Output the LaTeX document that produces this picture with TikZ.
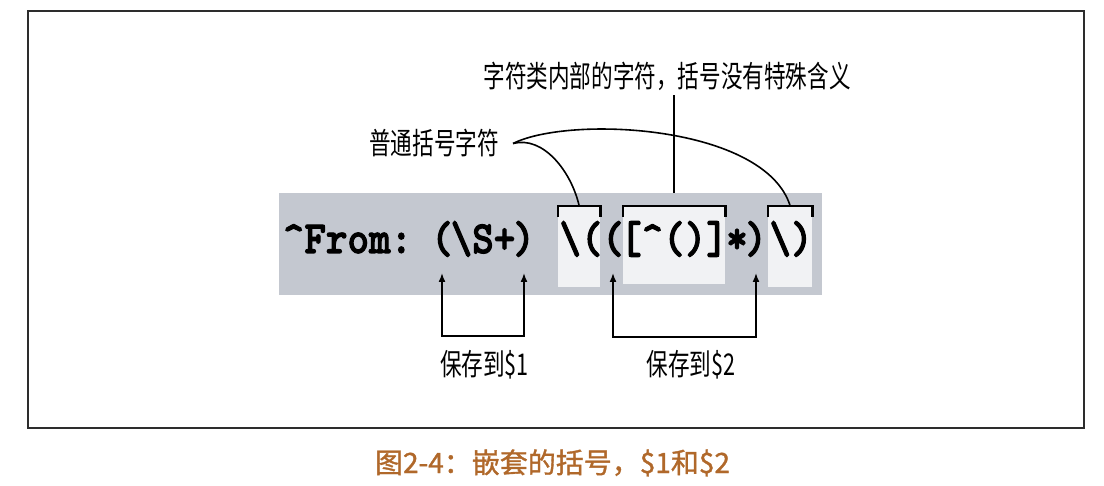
\documentclass[tikz,border=0pt]{standalone}
\usepackage{fontspec}
\usepackage{graphicx}
\usetikzlibrary{arrows.meta}
\newfontfamily\cjk{Noto Sans CJK SC}
\newfontfamily\cjkheavy[FakeBold=1.2]{Noto Sans CJK SC}
\newfontfamily\codefont[FakeBold=2.5]{lmmonolt10-bold.otf}
\newcommand\narrowtext[1]{\scalebox{0.72}[1]{#1}}
\newcommand\tallcode[1]{\scalebox{1}[1.12]{#1}}
\definecolor{bandgray}{RGB}{196,200,208}
\definecolor{holewhite}{RGB}{241,242,244}
\definecolor{captionbrown}{RGB}{176,104,42}
\definecolor{framegray}{RGB}{45,45,45}

\begin{document}
\begin{tikzpicture}[x=1pt,y=-1pt,
  code/.style={font=\codefont\fontsize{41}{41}\selectfont, inner sep=0pt, anchor=base},
  callout/.style={font=\cjk\fontsize{30}{30}\selectfont, inner sep=0pt, anchor=base},
  band/.style={fill=bandgray, draw=none, inner sep=0pt, anchor=north west},
  hole/.style={fill=holewhite, draw=none, inner sep=0pt, anchor=north west},
  bracket/.style={line width=2.2pt, black},
  conn/.style={line width=1.6pt, black},
  arr/.style={conn, {Latex[length=9pt,width=7pt]}-{Latex[length=9pt,width=7pt]}}
]
\useasboundingbox (0,0) rectangle (1104,486);

% outer frame
\node[draw=framegray, line width=2pt, inner sep=0pt, anchor=north west,
      minimum width=1056pt, minimum height=417pt] (frame) at (27,10) {};

% shaded regex band and the three lighter boxes
\node[band, minimum width=543pt, minimum height=102pt] (band) at (279,193) {};
\node[hole, minimum width=42pt, minimum height=81pt] (box1) at (558,206) {};
\node[hole, minimum width=102pt, minimum height=78pt] (box2) at (623,206) {};
\node[hole, minimum width=44pt, minimum height=81pt] (box3) at (768,206) {};

% brackets over the boxes
\foreach \b in {box1,box2,box3}
  \draw[bracket] ([yshift=-11pt]\b.north west) -- (\b.north west)
                 -- (\b.north east) -- ([yshift=-11pt]\b.north east);

% the regular expression
\node[code] (anchorfrom) at (347.5,253) {\tallcode{\char`\^From:}};
\node[code] (p1o) at (442,253) {\tallcode{(}};
\node[code] (p1body) at (483,253) {\tallcode{\char`\\S+}};
\node[code] (p1c) at (524,253) {\tallcode{)}};
\node[code] (litopen) at (581,253) {\tallcode{\char`\\(}};
\node[code] (p2o) at (613,253) {\tallcode{(}};
\node[code] (cls) at (674,253) {\tallcode{[\char`\^()]}};
\node[code] (star) at (737,253) {\tallcode{*}};
\node[code] (p2c) at (756,253) {\tallcode{)}};
\node[code] (litclose) at (791,253) {\tallcode{\char`\\)}};

% callout texts
\node[callout] (inner) at (667,88) {\narrowtext{字符类内部的字符，括号没有特殊含义}};
\node[callout] (plain) at (434,155) {\narrowtext{普通括号字符}};
\node[callout] (save1) at (484.5,376) {\narrowtext{保存到\$1}};
\node[callout] (save2) at (691,376) {\narrowtext{保存到\$2}};

% caption
\node[callout, font=\cjkheavy\fontsize{28}{28}\selectfont, text=captionbrown]
  (caption) at (552.5,473) {图2-4：嵌套的括号，\$1和\$2};

% leader from the class note down to the band
\draw[conn] ([yshift=-4pt]box2.north |- inner.south) -- (box2.north |- band.north);

% curved leaders to the literal parentheses
\coordinate (fork) at ([xshift=14pt]plain.east);
\draw[conn] (fork) .. controls +(30,-8) and +(-8,-35) .. (box1.north);
\draw[conn] (fork) .. controls (570,115) and (765,125) .. (box3.north);

% capture-group arrows
\coordinate (tip) at (0,273);
\coordinate (rail1) at (0,336);
\coordinate (rail2) at (0,337);
\draw[arr] (p1o |- tip) -- (p1o |- rail1) -- (p1c |- rail1) -- (p1c |- tip);
\draw[arr] (p2o |- tip) -- (p2o |- rail2) -- (p2c |- rail2) -- (p2c |- tip);
\end{tikzpicture}
\end{document}
